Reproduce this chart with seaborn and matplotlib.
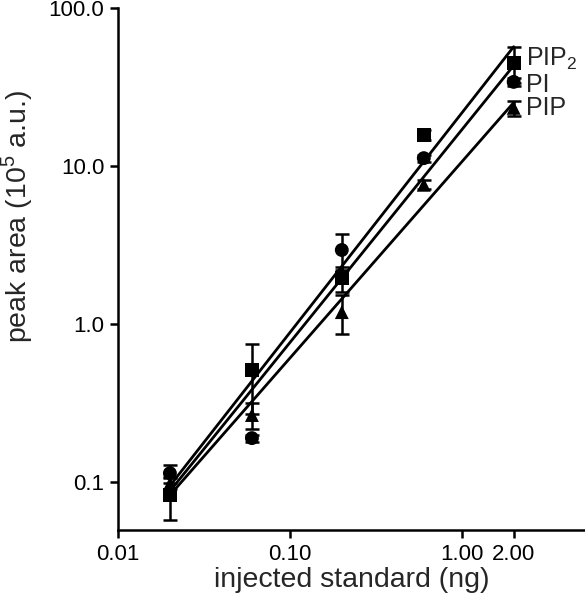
import numpy as np
import pandas as pd
import matplotlib
matplotlib.use("Agg")
import matplotlib.pyplot as plt
import seaborn as sns

# injected amount (ng)
amount = [0.02, 0.06, 0.2, 0.6, 2.0]

# mean peak area (1e5 a.u.) per standard
pip2_area = [0.083, 0.51, 1.95, 15.7, 44.8]
pi_area = [0.114, 0.19, 2.94, 11.2, 34.0]
pip_area = [0.098, 0.266, 1.19, 7.6, 23.3]

# standard deviations
pip2_sd = [0.025, 0.24, 0.35, 1.2, 11.5]
pi_sd = [0.015, 0.01, 0.75, 0.6, 2.0]
pip_sd = [0.008, 0.05, 0.33, 0.5, 2.5]

lipids = ["PIP$_2$", "PI", "PIP"]
markers = {"PIP$_2$": "s", "PI": "o", "PIP": "^"}
label_shift = {"PIP$_2$": 3, "PI": -2, "PIP": 0}

x_ticks = [0.01, 0.1, 1.0, 2.0]
x_ticklabels = ["0.01", "0.10", "1.00", "2.00"]
y_ticks = [0.1, 1.0, 10.0, 100.0]
y_ticklabels = ["0.1", "1.0", "10.0", "100.0"]

sns.set_style("ticks")
plt.rcParams["font.family"] = ["Liberation Sans", "DejaVu Sans"]
plt.rcParams["mathtext.fontset"] = "custom"
plt.rcParams["mathtext.rm"] = "Liberation Sans"

df = pd.DataFrame({
    "amount": amount * 3,
    "area": pip2_area + pi_area + pip_area,
    "sd": pip2_sd + pi_sd + pip_sd,
    "lipid": [l for l in lipids for _ in amount],
})

fig = plt.figure(figsize=(5.85, 6.0), dpi=100)
ax = fig.add_axes([0.202, 0.117, 0.798, 0.87])

# log-log linear fits
fit_rows = []
for lipid in lipids:
    sub = df[df["lipid"] == lipid]
    slope, icpt = np.polyfit(np.log10(sub["amount"]), np.log10(sub["area"]), 1)
    for xv in [min(amount), max(amount)]:
        fit_rows.append({"amount": xv, "area": 10 ** (icpt + slope * np.log10(xv)),
                         "lipid": lipid})
fits = pd.DataFrame(fit_rows)

sns.lineplot(data=fits, x="amount", y="area", units="lipid", estimator=None,
             color="black", lw=2, ax=ax, legend=False)

for lipid in lipids:
    sub = df[df["lipid"] == lipid]
    ax.errorbar(sub["amount"], sub["area"], yerr=sub["sd"], fmt="none",
                ecolor="black", elinewidth=1.8, capsize=5, capthick=1.8, zorder=3)

sns.scatterplot(data=df, x="amount", y="area", style="lipid", markers=markers,
                color="black", s=100, edgecolor="black", linewidth=0,
                ax=ax, legend=False, zorder=4)

# labels at the right end of each series
for lipid in lipids:
    sub = df[df["lipid"] == lipid]
    ax.annotate(lipid, (sub["amount"].iloc[-1], sub["area"].iloc[-1]),
                xytext=(9, label_shift[lipid]), textcoords="offset points",
                va="center", ha="left", fontsize=18)

ax.set_xscale("log")
ax.set_yscale("log")
ax.set_xlim(0.01, 5.2)
ax.set_ylim(0.05, 100)
ax.set_xticks(x_ticks)
ax.set_xticklabels(x_ticklabels)
ax.set_yticks(y_ticks)
ax.set_yticklabels(y_ticklabels)
ax.minorticks_off()
ax.tick_params(axis="both", labelsize=16, width=1.8, length=6, pad=4,
               color="black", labelcolor="black")
for side in ["left", "bottom"]:
    ax.spines[side].set_linewidth(1.8)
    ax.spines[side].set_color("black")
sns.despine(ax=ax)

ax.set_xlabel("injected standard (ng)", fontsize=20.5, labelpad=2)
ax.set_ylabel("peak area (10$^5$ a.u.)", fontsize=20.5)
ax.yaxis.set_label_coords(-0.178, 0.6)

fig.savefig("out.png", dpi=100)
